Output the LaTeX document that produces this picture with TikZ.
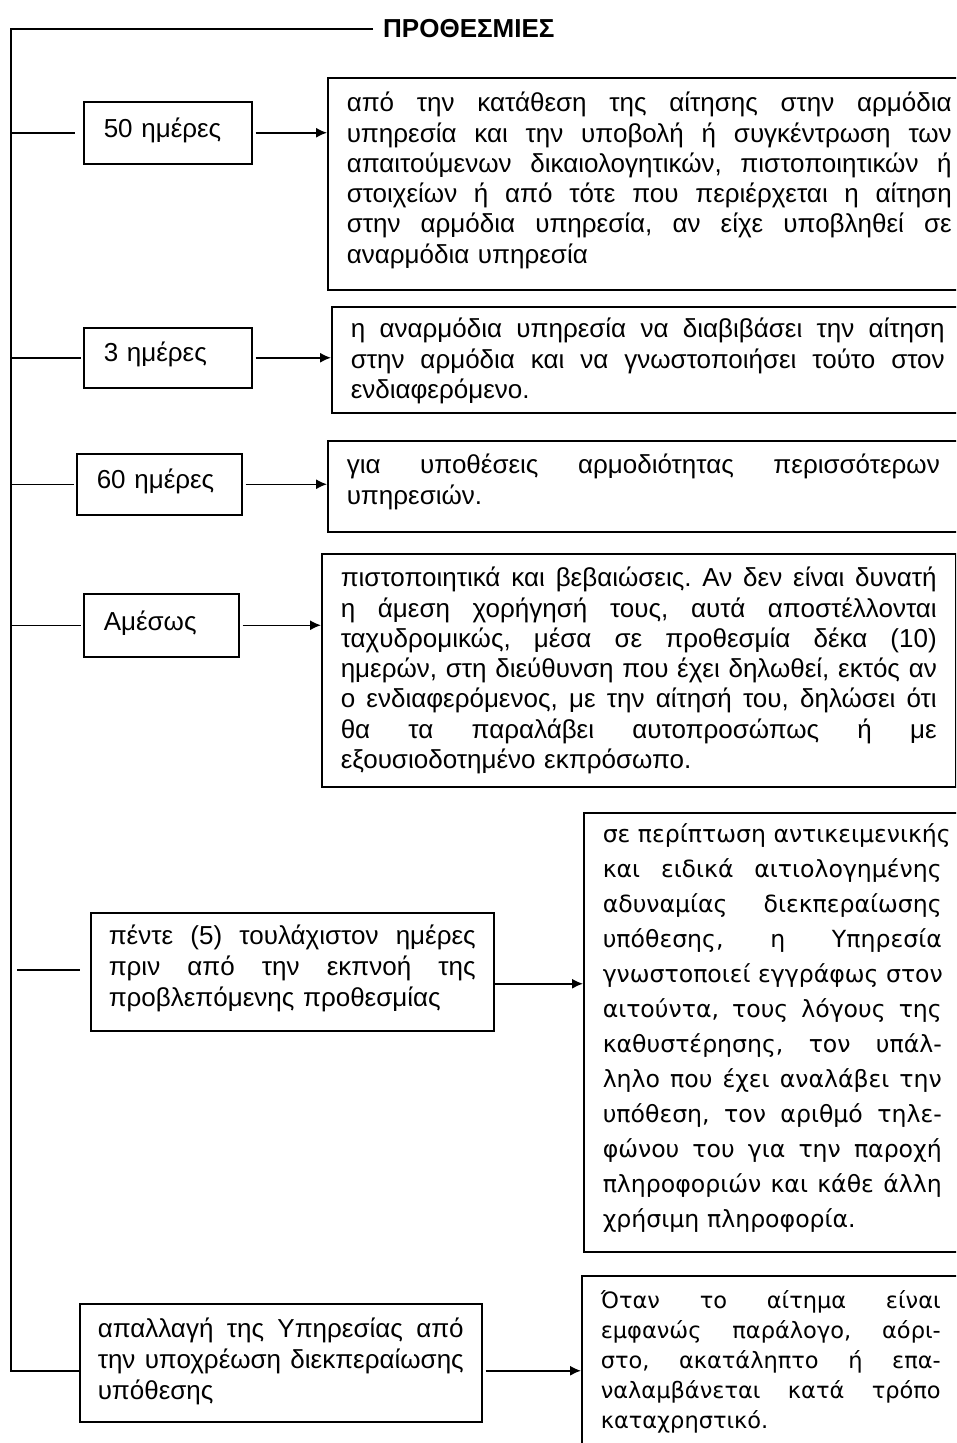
\documentclass[tikz,border=0pt]{standalone}
\usepackage{fontspec}
\setmainfont{Liberation Sans}
\newfontfamily\widefont{DejaVu Sans}
\usepackage{tikz}
\usetikzlibrary{arrows.meta}
\hyphenpenalty=10000
\frenchspacing
\newcommand{\jl}[1]{\hbox to \hsize{\spaceskip=\fontdimen2\font plus 1fil\relax #1}}
\tikzstyle{period} = [rectangle, draw, line width=1.5pt, anchor=north west,
    inner xsep=20pt, inner ysep=0pt, align=left, font=\fontsize{26}{31}\selectfont]
\tikzstyle{rule} = [rectangle, draw, line width=1.5pt, anchor=north west,
    inner xsep=19pt, inner ysep=0pt, font=\fontsize{26}{30.3}\selectfont]
\tikzstyle{line} = [draw, line width=1.5pt]
\tikzstyle{arrow} = [draw, line width=1.5pt, -{Latex[length=11pt,width=10pt]}]

\begin{document}
\begin{tikzpicture}[x=1pt, y=-1pt]
    \useasboundingbox (0,0) rectangle (956,1443);
    \clip (0,0) rectangle (956,1443);
    % Place nodes
    \coordinate (corner) at (11,29);
    \node [anchor=west, inner xsep=10pt, font=\bfseries\fontsize{26}{30}\selectfont] at (373,29) (title) {ΠΡΟΘΕΣΜΙΕΣ};
    \node [period, text width=128pt, text height=36pt, text depth=26pt] at (83,101) (d50) {50 ημέρες};
    \node [period, text width=128pt, text height=34pt, text depth=26pt] at (83,327) (d3) {3 ημέρες};
    \node [period, text width=125pt, text height=35pt, text depth=26pt] at (76,453) (d60) {60 ημέρες};
    \node [period, text width=115pt, text height=37pt, text depth=26pt] at (83,593) (dnow) {Αμέσως};
    \node [period, inner xsep=18pt, text width=367pt, text height=32pt, text depth=86pt] at (90,912) (d5) {%
        \jl{πέντε (5) τουλάχιστον ημέρες}
        \jl{πριν από την εκπνοή της}
        προβλεπόμενης προθεσμίας};
    \node [period, inner xsep=18pt, text width=366pt, text height=34pt, text depth=84pt] at (79,1303) (dfree) {%
        \jl{απαλλαγή της Υπηρεσίας από}
        \jl{την υποχρέωση διεκπεραίωσης}
        υπόθεσης};
    \node [rule, text width=605pt, text height=34pt, text depth=178pt] at (327,77) (t50) {%
        \jl{από την κατάθεση της αίτησης στην αρμόδια}
        \jl{υπηρεσία και την υποβολή ή συγκέντρωση των}
        \jl{απαιτούμενων δικαιολογητικών, πιστοποιητικών ή}
        \jl{στοιχείων ή από τότε που περιέρχεται η αίτηση}
        \jl{στην αρμόδια υπηρεσία, αν είχε υποβληθεί σε}
        αναρμόδια υπηρεσία};
    \node [rule, text width=594pt, text height=31pt, text depth=75pt] at (331,306) (t3) {%
        \jl{η αναρμόδια υπηρεσία να διαβιβάσει την αίτηση}
        \jl{στην αρμόδια και να γνωστοποιήσει τούτο στον}
        ενδιαφερόμενο.};
    \node [rule, text width=593pt, text height=33pt, text depth=58pt] at (327,440) (t60) {%
        \jl{για υποθέσεις αρμοδιότητας περισσότερων}
        υπηρεσιών.};
    \node [rule, text width=596pt, text height=33pt, text depth=200pt] at (321,553) (tnow) {%
        \jl{πιστοποιητικά και βεβαιώσεις. Αν δεν είναι δυνατή}
        \jl{η άμεση χορήγησή τους, αυτά αποστέλλονται}
        \jl{ταχυδρομικώς, μέσα σε προθεσμία δέκα (10)}
        \jl{ημερών, στη διεύθυνση που έχει δηλωθεί, εκτός αν}
        \jl{ο ενδιαφερόμενος, με την αίτησή του, δηλώσει ότι}
        \jl{θα τα παραλάβει αυτοπροσώπως ή με}
        εξουσιοδοτημένο εκπρόσωπο.};
    \node [rule, font=\widefont\fontsize{23.6}{35}\selectfont, text width=339pt, text height=30pt, text depth=409pt] at (583,812) (t5) {%
        \jl{σε περίπτωση αντικειμενικής}
        \jl{και ειδικά αιτιολογημένης}
        \jl{αδυναμίας διεκπεραίωσης}
        \jl{υπόθεσης, η Υπηρεσία}
        \jl{γνωστοποιεί εγγράφως στον}
        \jl{αιτούντα, τους λόγους της}
        \jl{καθυστέρησης, τον υπάλ-}
        \jl{ληλο που έχει αναλάβει την}
        \jl{υπόθεση, τον αριθμό τηλε-}
        \jl{φώνου του για την παροχή}
        \jl{πληροφοριών και κάθε άλλη}
        χρήσιμη πληροφορία.};
    \node [rule, font=\widefont\fontsize{22.5}{30}\selectfont, text width=340pt, text height=33pt, text depth=200pt] at (581,1275) (tfree) {%
        \jl{Όταν το αίτημα είναι}
        \jl{εμφανώς παράλογο, αόρι-}
        \jl{στο, ακατάληπτο ή επα-}
        \jl{ναλαμβάνεται κατά τρόπο}
        καταχρηστικό.};
    % Draw edges
    \path [line] (title.west) -- (corner) |- ([yshift=-8pt]dfree.west);
    \path [line, shorten >=8pt] (d50.west -| corner) -- (d50.west);
    \foreach \n in {d3,d60,dnow}
        \path [line, shorten >=2pt] (\n.west -| corner) -- (\n.west);
    \path [line, shorten <=6pt, shorten >=10pt] ([yshift=2pt]d5.west -| corner) -- ([yshift=2pt]d5.west);
    \foreach \a/\b in {d50/t50, d3/t3, d60/t60, dnow/tnow}
        \path [arrow, shorten <=3pt] (\a.east) -- (\a.east -| \b.west);
    \path [arrow] ([yshift=-12pt]d5.east) -- ([yshift=-12pt]d5.east -| t5.west);
    \path [arrow, shorten <=3pt] ([yshift=-8pt]dfree.east) -- ([yshift=-8pt]dfree.east -| tfree.west);
\end{tikzpicture}
\end{document}
